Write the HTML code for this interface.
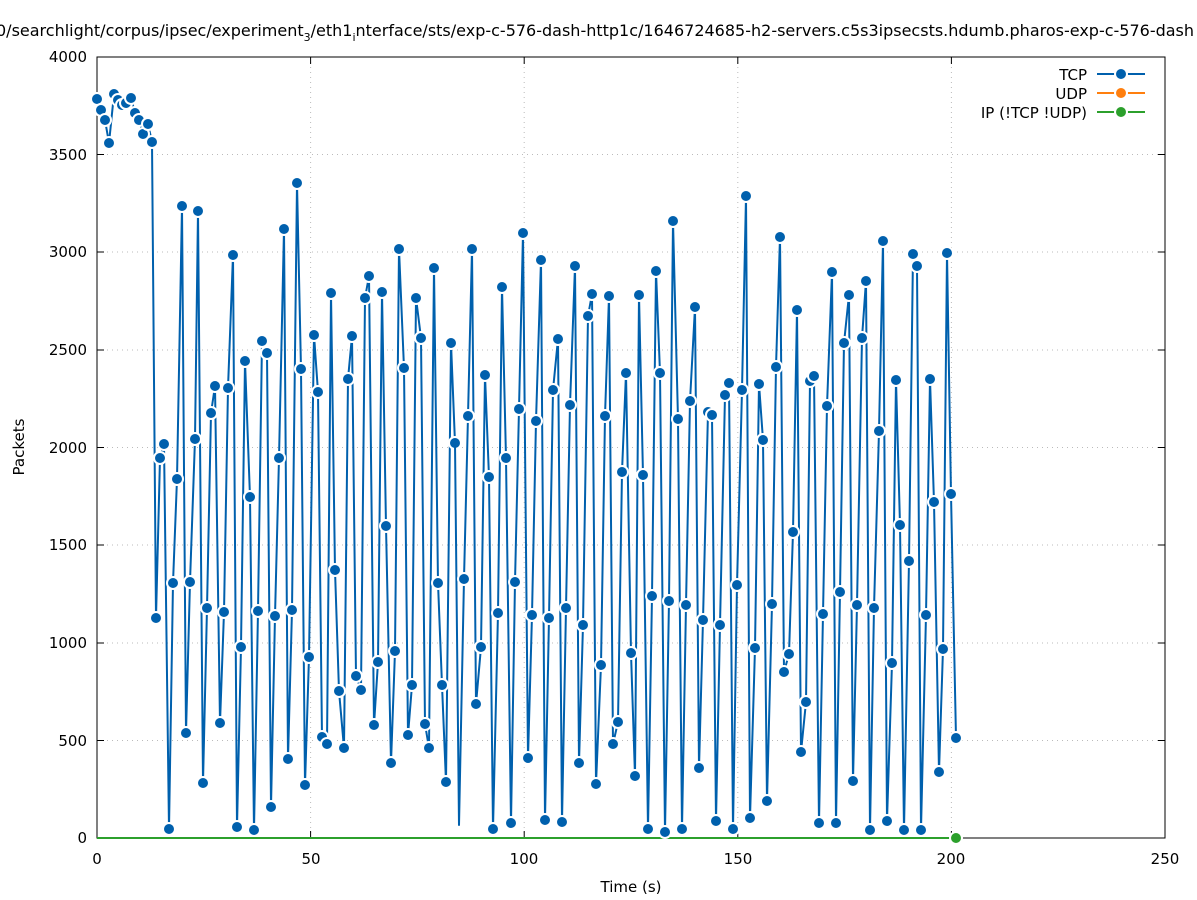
<!DOCTYPE html>
<html><head><meta charset="utf-8"><style>
body{margin:0;background:#fff}
svg{display:block;font-family:"DejaVu Sans","Liberation Sans",sans-serif;font-size:15px}
</style></head><body>
<svg width="1197" height="900" viewBox="0 0 1197 900" xmlns="http://www.w3.org/2000/svg">
<defs>
<marker id="m" markerUnits="userSpaceOnUse" markerWidth="16" markerHeight="16" refX="8" refY="8" viewBox="0 0 16 16"><circle cx="8" cy="8" r="6" fill="#0060ad" stroke="#fff" stroke-width="2"/></marker>
</defs>
<rect width="1197" height="900" fill="#fff"/>
<text x="-4" y="36" font-size="16">0/searchlight/corpus/ipsec/experiment<tspan font-size="11" dy="5">3</tspan><tspan dy="-5">/eth1</tspan><tspan font-size="11" dy="5">i</tspan><tspan dy="-5">nterface/sts/exp-c-576-dash-http1c/1646724685-h2-servers.c5s3ipsecsts.hdumb.pharos-exp-c-576-dash</tspan></text>
<g stroke="#bbb" stroke-dasharray="1,4" stroke-width="1">
<line x1="97" y1="740.5" x2="1165" y2="740.5"/><line x1="97" y1="643" x2="1165" y2="643"/><line x1="97" y1="545" x2="1165" y2="545"/><line x1="97" y1="447.5" x2="1165" y2="447.5"/><line x1="97" y1="350" x2="1165" y2="350"/><line x1="97" y1="252" x2="1165" y2="252"/><line x1="97" y1="154.5" x2="1165" y2="154.5"/>
<line x1="310.6" y1="57" x2="310.6" y2="838"/><line x1="524.2" y1="57" x2="524.2" y2="838"/><line x1="737.8" y1="57" x2="737.8" y2="838"/><line x1="951.4" y1="57" x2="951.4" y2="838"/>
</g>
<rect x="97" y="57" width="1068" height="781" fill="none" stroke="#000" stroke-width="1"/>
<g stroke="#000">
<line x1="97" y1="740.5" x2="104" y2="740.5"/><line x1="97" y1="643" x2="104" y2="643"/><line x1="97" y1="545" x2="104" y2="545"/><line x1="97" y1="447.5" x2="104" y2="447.5"/><line x1="97" y1="350" x2="104" y2="350"/><line x1="97" y1="252" x2="104" y2="252"/><line x1="97" y1="154.5" x2="104" y2="154.5"/>
<line x1="1165" y1="740.5" x2="1158" y2="740.5"/><line x1="1165" y1="643" x2="1158" y2="643"/><line x1="1165" y1="545" x2="1158" y2="545"/><line x1="1165" y1="447.5" x2="1158" y2="447.5"/><line x1="1165" y1="350" x2="1158" y2="350"/><line x1="1165" y1="252" x2="1158" y2="252"/><line x1="1165" y1="154.5" x2="1158" y2="154.5"/>
<line x1="310.6" y1="838" x2="310.6" y2="831"/><line x1="524.2" y1="838" x2="524.2" y2="831"/><line x1="737.8" y1="838" x2="737.8" y2="831"/><line x1="951.4" y1="838" x2="951.4" y2="831"/>
<line x1="310.6" y1="57" x2="310.6" y2="64"/><line x1="524.2" y1="57" x2="524.2" y2="64"/><line x1="737.8" y1="57" x2="737.8" y2="64"/><line x1="951.4" y1="57" x2="951.4" y2="64"/>
</g>
<g text-anchor="end">
<text x="87" y="843">0</text><text x="87" y="746">500</text><text x="87" y="648">1000</text><text x="87" y="550">1500</text><text x="87" y="453">2000</text><text x="87" y="355">2500</text><text x="87" y="257">3000</text><text x="87" y="160">3500</text><text x="87" y="62">4000</text>
</g>
<g text-anchor="middle">
<text x="97" y="864">0</text><text x="311" y="864">50</text><text x="524" y="864">100</text><text x="738" y="864">150</text><text x="951" y="864">200</text><text x="1165" y="864">250</text>
<text x="631" y="892">Time (s)</text>
<text transform="translate(24,447) rotate(-90)">Packets</text>
</g>
<line x1="97" y1="838" x2="956" y2="838" stroke="#2ca02c" stroke-width="2"/>
<polyline fill="none" stroke="#0060ad" stroke-width="2" stroke-linejoin="round" marker-start="url(#m)" marker-mid="url(#m)" marker-end="url(#m)" points="97,99 101,110 105,120 109,143 114,94 118,100 122,105 126,103 131,98 135,113 139,120 143,134 148,124 152,142 156,618 160,458 164,444 169,829 173,583 177,479 182,206 186,733 190,582 195,439 198,211 203,783 207,608 211,413 215,386 220,723 224,612 228,388 233,255 237,827 241,647 245,361 250,497 254,830 258,611 262,341 267,353 271,807 275,616 279,458 284,229 288,759 292,610 297,183 301,369 305,785 309,657 314,335 318,392 322,737 327,744 331,293 335,570 339,691 344,748 348,379 352,336 356,676 361,690 365,298 369,276 374,725 378,662 382,292 386,526 391,763 395,651 399,249 404,368 408,735 412,685 416,298 421,338 425,724 429,748 434,268 438,583 442,685 446,782 451,343 455,443"/>
<polyline fill="none" stroke="#0060ad" stroke-width="2" stroke-linejoin="round" points="455,443 459,825 464,579"/>
<polyline fill="none" stroke="#0060ad" stroke-width="2" stroke-linejoin="round" marker-start="url(#m)" marker-mid="url(#m)" marker-end="url(#m)" points="464,579 468,416 472,249 476,704 481,647 485,375 489,477 493,829 498,613 502,287 506,458 511,823 515,582 519,409 523,233 528,758 532,615 536,421 541,260 545,820 549,618 553,390 558,339 562,822 566,608 570,405 575,266 579,763 583,625 588,316 592,294 596,784 601,665 605,416 609,296 613,744 618,722 622,472 626,373 631,653 635,776 639,295 643,475 648,829 652,596 656,271 660,373 665,832 669,601 673,221 678,419 682,829 686,605 690,401 695,307 699,768 703,620 708,412 712,415 716,821 720,625 725,395 729,383 733,829 737,585 742,390 746,196 750,818 755,648 759,384 763,440 767,801 772,604 776,367 780,237 784,672 789,654 793,532 797,310 801,752 806,702 810,381 814,376 819,823 823,614 827,406 832,272 836,823 840,592 844,343 849,295 853,781 857,605 862,338 866,281 870,830 874,608 879,431 883,241 887,821 892,663 896,380 900,525 904,830 909,561 913,254 917,266 921,830 926,615 930,379 934,502 939,772 943,649 947,253 951,494 956,738"/>
<circle cx="956" cy="838" r="6" fill="#2ca02c" stroke="#fff" stroke-width="2"/>
<g text-anchor="end" xml:space="preserve">
<text x="1087" y="80">TCP</text><text x="1087" y="99">UDP</text><text x="1087" y="118">IP (!TCP  !UDP)</text>
</g>
<line x1="1097" y1="74" x2="1145" y2="74" stroke="#0060ad" stroke-width="2"/><circle cx="1121" cy="74" r="6" fill="#0060ad" stroke="#fff" stroke-width="2"/>
<line x1="1097" y1="93" x2="1145" y2="93" stroke="#ff7f0e" stroke-width="2"/><circle cx="1121" cy="93" r="6" fill="#ff7f0e" stroke="#fff" stroke-width="2"/>
<line x1="1097" y1="112" x2="1145" y2="112" stroke="#2ca02c" stroke-width="2"/><circle cx="1121" cy="112" r="6" fill="#2ca02c" stroke="#fff" stroke-width="2"/>
</svg>
</body></html>
